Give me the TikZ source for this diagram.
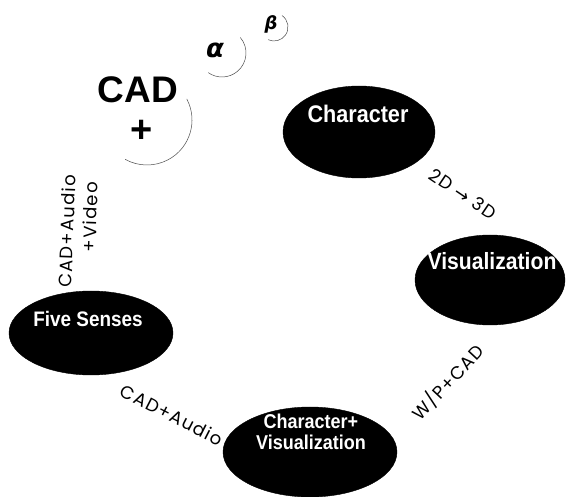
\documentclass[tikz,border=0pt]{standalone}
\usepackage{fontspec}
\setmainfont{Liberation Sans}
\newfontfamily\blobfont[FakeStretch=0.9]{Liberation Sans}
\newfontfamily\pathfont[LetterSpace=7]{Poppins}
\newfontfamily\symfont{DejaVu Sans}
\usetikzlibrary{shapes.geometric}

\tikzset{
  blob/.style={ellipse,draw=black,fill=black,inner sep=0pt},
  blobtext/.style={text=white,inner sep=0pt,align=center,
    font=\blobfont\bfseries\fontsize{#1}{#1}\selectfont},
  pathlabel/.style={inner sep=0pt,font=\pathfont\fontsize{18}{20}\selectfont},
  greek/.style={inner sep=0pt,font=\symfont\bfseries\itshape\fontsize{#1}{#1}\selectfont},
  bow/.style={draw=black!70,line width=0.5pt}
}

\begin{document}
\begin{tikzpicture}[x=1pt,y=-1pt]
    \useasboundingbox (0,0) rectangle (566,497);
    % the four ellipses
    \node[blob,minimum width=152pt,minimum height=92pt] (chr) at (359,132) {};
    \node[blob,minimum width=150pt,minimum height=90pt] (vis) at (490,280) {};
    \node[blob,minimum width=164pt,minimum height=84pt] (five) at (91,333) {};
    \node[blob,minimum width=174pt,minimum height=90pt] (chrvis) at (310,452) {};
    \node[blobtext=24] (chrtext) at (358,114) {Character};
    \node[blobtext=23.5] (vistext) at (492,261) {Visualization};
    \node[blobtext=21] (fivetext) at (88,319) {Five Senses};
    \node[blobtext=20] (chrvistext) at (311,432) {Character+\\[1pt]Visualization};
    % CAD + and the greek letters
    \node[inner sep=0pt,font=\bfseries\fontsize{37}{37}\selectfont] (cad) at (138,90) {CAD};
    \node[inner sep=0pt,font=\bfseries\fontsize{38}{38}\selectfont] (plus) at (142,131) {+};
    \node[greek=26] (alpha) at (215,50) {α};
    \node[greek=18] (beta) at (271,24) {β};
    \draw[bow] ([shift={(-28:45)}]147,120) arc[start angle=-28,end angle=119,radius=45];
    \draw[bow] ([shift={(-40:24)}]222,53) arc[start angle=-40,end angle=125,radius=24];
    \draw[bow] ([shift={(-55:14)}]274,27) arc[start angle=-55,end angle=115,radius=14];
    % labels between the ellipses
    \node[pathlabel,rotate=-34] (twod) at (463,194) {2D {\symfont →} 3D};
    \node[pathlabel,rotate=47] (wpcad) at (448,382) {W/P+CAD};
    \node[pathlabel,rotate=-27] (cadaudio) at (172,415) {CAD+Audio};
    \node[pathlabel,rotate=88] (cadav) at (67,231) {CAD+Audio};
    \node[pathlabel,rotate=88] (video) at (90,217) {+Video};
\end{tikzpicture}
\end{document}
